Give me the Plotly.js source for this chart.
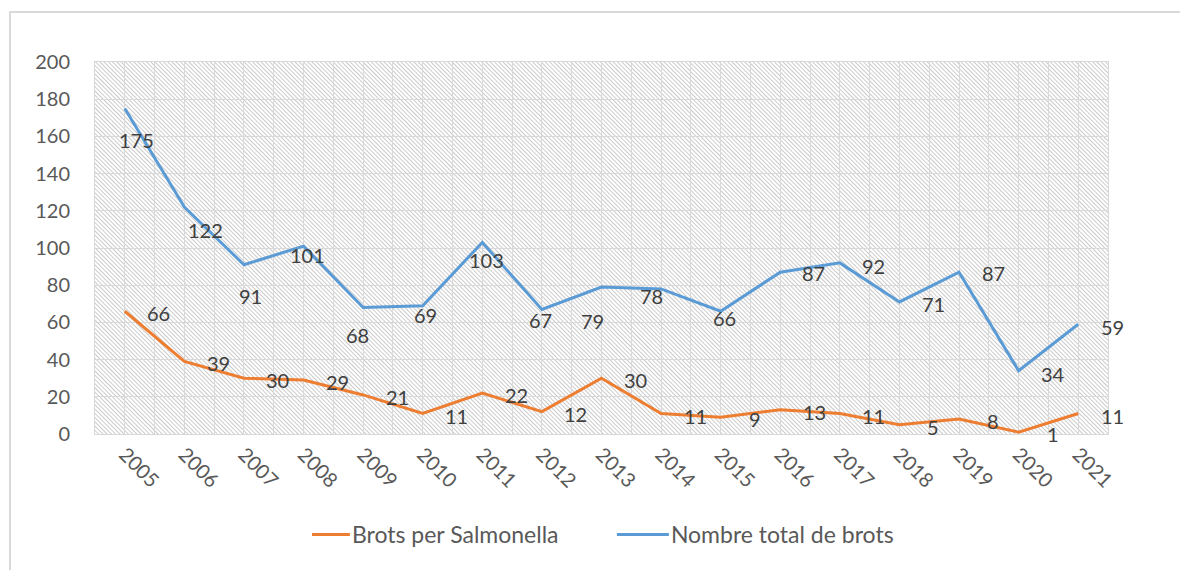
<!DOCTYPE html>
<html>
<head>
<meta charset="utf-8">
<script src="https://cdn.plot.ly/plotly-3.0.1.min.js"></script>
<style>
  html, body { margin: 0; padding: 0; background: #ffffff; }
  #frame { position: absolute; left: 9px; top: 11px; width: 1200px; height: 620px; border: 2px solid #d9d9d9; box-sizing: border-box; }
  #chart { position: absolute; left: 0; top: 0; width: 1180px; height: 570px; }
</style>
</head>
<body>
<div id="frame"></div>
<div id="chart"></div>
<script>
// ---- Data ----
const years = [2005, 2006, 2007, 2008, 2009, 2010, 2011, 2012, 2013, 2014, 2015, 2016, 2017, 2018, 2019, 2020, 2021];
const salmonella = [66, 39, 30, 29, 21, 11, 22, 12, 30, 11, 9, 13, 11, 5, 8, 1, 11];
const totalBrots = [175, 122, 91, 101, 68, 69, 103, 67, 79, 78, 66, 87, 92, 71, 87, 34, 59];
const seriesNames = ["Brots per Salmonella", "Nombre total de brots"];
const yTicks = [0, 20, 40, 60, 80, 100, 120, 140, 160, 180, 200];

// ---- Label offsets (pixels, style only) ----
const totalDx = [12, 21, 7, 4, -6, 3, 4, -1, -9, -10, 4, 33, 34, 34, 34, 34, 34];
const totalDy = [-31, -23, -31, -9, -27, -9, -18, -11, -34, -7, -7, -1, -3, -2, -1, -3, -3];
const salDx = 34, salDy = -2;

const FONT = 'Lato, "Open Sans", sans-serif';
const labelFont = { family: FONT, size: 20, color: '#404040' };

// hatch pattern image
const W = 1013, H = 372;
const svg = `<svg xmlns="http://www.w3.org/2000/svg" width="${W}" height="${H}">
<defs><pattern id="p" width="3" height="10" patternUnits="userSpaceOnUse" patternTransform="rotate(-45)">
<line x1="0.5" y1="-1" x2="0.5" y2="11" stroke="#cbcbcb" stroke-width="1"/>
</pattern></defs>
<rect width="${W}" height="${H}" fill="#ffffff"/>
<rect width="${W}" height="${H}" fill="url(#p)"/>
</svg>`;
const hatch = 'data:image/svg+xml;base64,' + btoa(svg);

const traces = [
  { x: years, y: salmonella, name: seriesNames[0], type: 'scatter', mode: 'lines',
    line: { color: '#ED7D31', width: 3 } },
  { x: years, y: totalBrots, name: seriesNames[1], type: 'scatter', mode: 'lines',
    line: { color: '#5B9BD5', width: 3 } }
];

const annotations = [];
years.forEach((yr, i) => {
  annotations.push({ x: yr, y: totalBrots[i], text: String(totalBrots[i]), showarrow: false,
    xshift: totalDx[i], yshift: totalDy[i], font: labelFont, xanchor: 'center', yanchor: 'middle' });
  annotations.push({ x: yr, y: salmonella[i], text: String(salmonella[i]), showarrow: false,
    xshift: salDx, yshift: salDy, font: labelFont, xanchor: 'center', yanchor: 'middle' });
});

const layout = {
  width: 1180, height: 570,
  margin: { l: 95, r: 72, t: 62, b: 136 },
  paper_bgcolor: 'rgba(0,0,0,0)',
  plot_bgcolor: 'rgba(0,0,0,0)',
  font: { family: FONT, size: 20, color: '#595959' },
  showlegend: true,
  legend: { orientation: 'h', x: 0.529, xanchor: 'center', y: -0.27, yanchor: 'middle',
    entrywidth: 274, entrywidthmode: 'pixels',
    font: { family: FONT, size: 23, color: '#595959' }, traceorder: 'normal' },
  xaxis: {
    type: 'linear', range: [2004.5, 2021.5], tickmode: 'array', tickvals: years,
    ticktext: years.map(String), tickangle: 45, ticks: '',
    showgrid: true, gridcolor: '#d9d9d9', gridwidth: 1,
    minor: { tickmode: 'linear', tick0: 2004.5, dtick: 1, showgrid: true, gridcolor: '#d9d9d9', gridwidth: 1, ticks: '' },
    showline: true, linecolor: '#d9d9d9', linewidth: 1, mirror: true, zeroline: false,
    tickfont: { family: FONT, size: 20, color: '#595959' }, fixedrange: true
  },
  yaxis: {
    range: [0, 200], tickmode: 'array', tickvals: yTicks, ticks: '',
    showgrid: true, gridcolor: '#d9d9d9', gridwidth: 1,
    showline: true, linecolor: '#d9d9d9', linewidth: 1, mirror: true, zeroline: false,
    ticklabelstandoff: 20,
    tickfont: { family: FONT, size: 20, color: '#595959' }, fixedrange: true
  },
  images: [{ source: hatch, xref: 'paper', yref: 'paper', x: 0, y: 1, sizex: 1, sizey: 1,
    sizing: 'stretch', xanchor: 'left', yanchor: 'top', layer: 'below' }],
  annotations: annotations
};

Plotly.newPlot('chart', traces, layout, { displayModeBar: false, staticPlot: true }).then(gd => {
  // lengthen legend line samples (style only)
  gd.querySelectorAll('.legend .legendlines path').forEach(p => {
    p.setAttribute('d', 'M-14,0h52');
  });
});
</script>
</body>
</html>
